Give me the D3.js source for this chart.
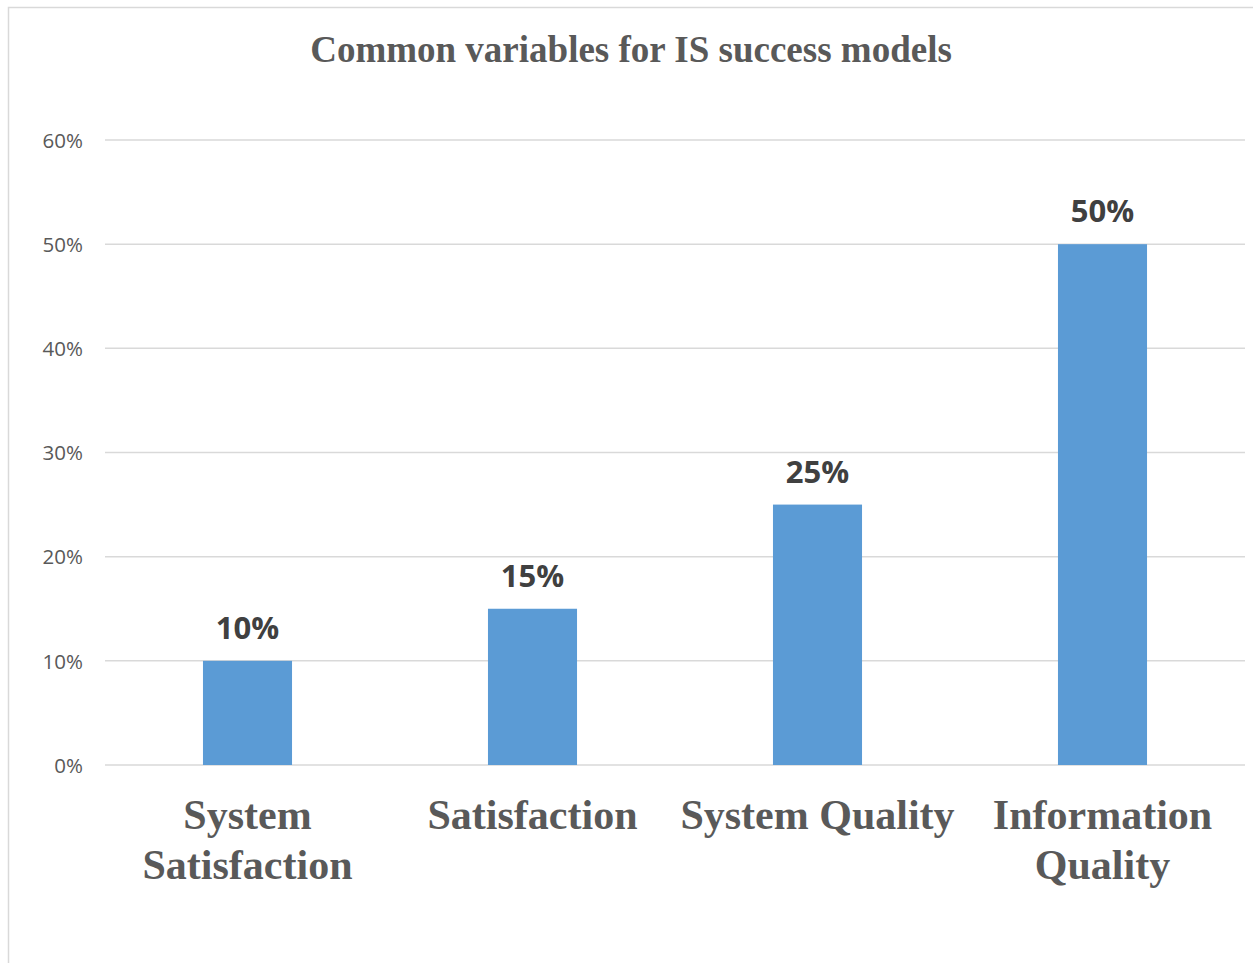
<!DOCTYPE html>
<html>
<head>
<meta charset="utf-8">
<script src="https://cdn.jsdelivr.net/npm/d3@7"></script>
<style>
  html, body { margin: 0; padding: 0; background: #fff; }
  svg { display: block; }
</style>
</head>
<body>
<script>
// Chart data
const categories = ["System Satisfaction", "Satisfaction", "System Quality", "Information Quality"];
const shares = [0.10, 0.15, 0.25, 0.50];
const yTicks = [0, 0.1, 0.2, 0.3, 0.4, 0.5, 0.6];
const chartTitle = "Common variables for IS success models";

const W = 1253, H = 963;
const plot = { left: 105, right: 1245, top: 140, bottom: 765 };

const svg = d3.select("body").append("svg")
  .attr("width", W).attr("height", H);

// Outer chart frame (extends past the right and bottom edges)
svg.append("rect")
  .attr("x", 8.5).attr("y", 7.5)
  .attr("width", W + 20).attr("height", H + 20)
  .attr("fill", "#fff")
  .attr("stroke", "#d9d9d9")
  .attr("stroke-width", 1.5);

const x = d3.scaleBand()
  .domain(categories)
  .range([plot.left, plot.right])
  .paddingInner(0.6875)
  .paddingOuter(0.34375);

const y = d3.scaleLinear()
  .domain([0, 0.6])
  .range([plot.bottom, plot.top]);

// Gridlines
svg.append("g")
  .selectAll("line")
  .data(yTicks)
  .join("line")
  .attr("x1", plot.left).attr("x2", plot.right)
  .attr("y1", d => y(d)).attr("y2", d => y(d))
  .attr("stroke", "#d9d9d9")
  .attr("stroke-width", 1.5);

// Y axis labels
const yAxis = d3.axisLeft(y)
  .tickValues(yTicks)
  .tickFormat(d3.format(".0%"))
  .tickSize(0)
  .tickPadding(0);

const yg = svg.append("g")
  .attr("transform", `translate(${plot.left - 22},0)`)
  .call(yAxis);
yg.select(".domain").remove();
yg.selectAll("text")
  .attr("font-family", "'Open Sans', 'Liberation Sans', sans-serif")
  .attr("font-size", 20.5)
  .attr("fill", "#595959")
  .attr("dy", "0.35em");

// Bars
svg.append("g")
  .selectAll("rect")
  .data(categories)
  .join("rect")
  .attr("x", d => x(d))
  .attr("width", x.bandwidth())
  .attr("y", (d, i) => y(shares[i]))
  .attr("height", (d, i) => y(0) - y(shares[i]))
  .attr("fill", "#5b9bd5");

// Value labels
svg.append("g")
  .selectAll("text")
  .data(categories)
  .join("text")
  .attr("x", d => x(d) + x.bandwidth() / 2)
  .attr("y", (d, i) => y(shares[i]) - 22)
  .attr("text-anchor", "middle")
  .attr("font-family", "'Open Sans', 'Liberation Sans', sans-serif")
  .attr("font-weight", "bold")
  .attr("font-size", 31)
  .attr("fill", "#404040")
  .text((d, i) => d3.format(".0%")(shares[i]));

// Category labels, wrapped to the band step
const step = x.step();
const catG = svg.append("g");
categories.forEach(cat => {
  const cx = x(cat) + x.bandwidth() / 2;
  const t = catG.append("text")
    .attr("text-anchor", "middle")
    .attr("font-family", "'Liberation Serif', 'Times New Roman', serif")
    .attr("font-weight", "bold")
    .attr("font-size", 42)
    .attr("fill", "#595959");
  const words = cat.split(" ");
  let lines = [], cur = [];
  const probe = t.append("tspan");
  words.forEach(w => {
    const trial = cur.concat([w]).join(" ");
    probe.text(trial);
    if (cur.length && probe.node().getComputedTextLength() > step - 4) {
      lines.push(cur.join(" "));
      cur = [w];
    } else {
      cur.push(w);
    }
  });
  lines.push(cur.join(" "));
  probe.remove();
  lines.forEach((ln, i) => {
    t.append("tspan")
      .attr("x", cx)
      .attr("y", 829 + i * 50)
      .text(ln);
  });
});

// Title
svg.append("text")
  .attr("x", 631)
  .attr("y", 62)
  .attr("text-anchor", "middle")
  .attr("font-family", "'Liberation Serif', 'Times New Roman', serif")
  .attr("font-weight", "bold")
  .attr("font-size", 37)
  .attr("fill", "#595959")
  .text(chartTitle);
</script>
</body>
</html>
